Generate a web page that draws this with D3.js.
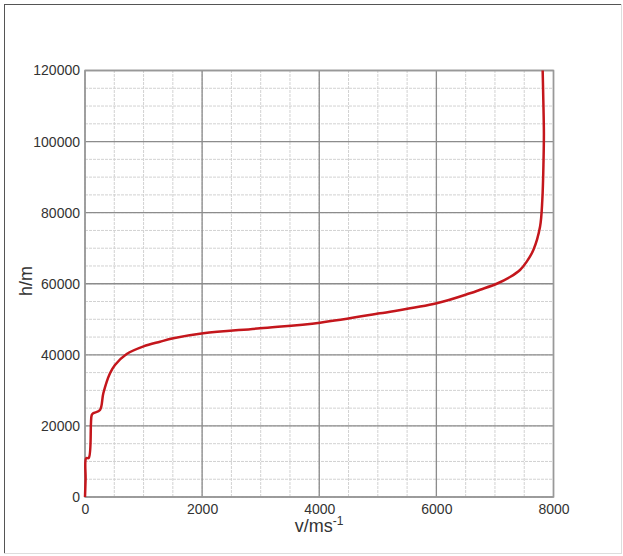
<!DOCTYPE html>
<html lang="en">
<head>
    <meta charset="UTF-8">
    <title>h/m vs v/ms-1</title>
    <script src="https://d3js.org/d3.v7.min.js"></script>
</head>

<style>
    body { margin: 0; background: #fff; }
    text { font-family: Arial, "Liberation Sans", sans-serif; fill: #333; }
    .minor line { stroke: #d2d2d2; stroke-width: 1px; stroke-dasharray: 3,1; }
    .major line { stroke: #8c8c8c; stroke-width: 1.3px; }
</style>

<body>
<svg width="623" height="556"></svg>

<script>
    // velocity (m/s) and altitude (m)
    var velocity = [0, 10, 20, 65, 115, 140, 256, 313, 427, 512, 712, 1000, 1281, 1508, 2020,
        2988, 4013, 5038, 6006, 6574, 6745, 7030, 7257, 7428, 7543, 7656, 7770, 7809, 7830, 7836, 7826, 7815];
    var altitude = [0, 5000, 10900, 11000, 23070, 23550, 24480, 29180, 34800, 37140, 40240, 42400, 43700, 44650, 46060,
        47470, 49050, 51690, 54500, 57320, 58300, 60000, 61890, 63870, 66220, 69500, 76060, 83570, 94820, 102300, 111700, 120000];

    var xMajor = [0, 2000, 4000, 6000, 8000];
    var yMajor = [0, 20000, 40000, 60000, 80000, 100000, 120000];
    var xMinor = d3.range(0, 8001, 500);
    var yMinor = d3.range(0, 120001, 5000);

    var svg = d3.select("svg"),
        width = +svg.attr("width"),
        height = +svg.attr("height");

    // outer frame
    svg.append("line").attr("x1", 4).attr("y1", 4.5).attr("x2", 622).attr("y2", 4.5).attr("stroke", "#555");
    svg.append("line").attr("x1", 4.5).attr("y1", 4).attr("x2", 4.5).attr("y2", 554).attr("stroke", "#555");
    svg.append("line").attr("x1", 621.5).attr("y1", 4).attr("x2", 621.5).attr("y2", 554).attr("stroke", "#ddd");
    svg.append("line").attr("x1", 4).attr("y1", 553.5).attr("x2", 622).attr("y2", 553.5).attr("stroke", "#ddd");

    var margin = {left: 85, right: 69.5, top: 70.5, bottom: 59};
    var x = d3.scaleLinear().domain([0, 8000]).range([margin.left, width - margin.right]);
    var y = d3.scaleLinear().domain([0, 120000]).range([height - margin.bottom, margin.top]);

    var minor = svg.append("g").attr("class", "minor");
    minor.selectAll(".vx").data(xMinor).enter().append("line")
        .attr("x1", function(d) { return x(d); }).attr("x2", function(d) { return x(d); })
        .attr("y1", y(0)).attr("y2", y(120000));
    minor.selectAll(".hy").data(yMinor).enter().append("line")
        .attr("y1", function(d) { return y(d); }).attr("y2", function(d) { return y(d); })
        .attr("x1", x(0)).attr("x2", x(8000));

    var major = svg.append("g").attr("class", "major");
    major.selectAll(".vx").data(xMajor).enter().append("line")
        .attr("x1", function(d) { return x(d); }).attr("x2", function(d) { return x(d); })
        .attr("y1", y(0)).attr("y2", y(120000));
    major.selectAll(".hy").data(yMajor).enter().append("line")
        .attr("y1", function(d) { return y(d); }).attr("y2", function(d) { return y(d); })
        .attr("x1", x(0)).attr("x2", x(8000));

    svg.append("rect")
        .attr("x", x(0)).attr("y", y(120000))
        .attr("width", x(8000) - x(0)).attr("height", y(0) - y(120000))
        .attr("fill", "none").attr("stroke", "#999").attr("stroke-width", 1.5);

    // tick labels
    var xAxis = d3.axisBottom(x).tickValues(xMajor).tickSize(0).tickPadding(7).tickFormat(d3.format("d"));
    var gx = svg.append("g").attr("transform", "translate(0," + y(0) + ")").call(xAxis);
    gx.select(".domain").remove();
    gx.selectAll("text").style("font-size", "14px").attr("fill", "#333");

    var yAxis = d3.axisLeft(y).tickValues(yMajor).tickSize(0).tickPadding(5).tickFormat(d3.format("d"));
    var gy = svg.append("g").attr("transform", "translate(" + x(0) + ",0)").call(yAxis);
    gy.select(".domain").remove();
    gy.selectAll("text").style("font-size", "14px").attr("fill", "#333");

    // axis titles
    svg.append("text")
        .attr("transform", "translate(32,281) rotate(-90)")
        .attr("text-anchor", "middle")
        .style("font-size", "18px")
        .text("h/m");

    var xt = svg.append("text")
        .attr("x", 319).attr("y", 532)
        .attr("text-anchor", "middle")
        .style("font-size", "18px")
        .text("v/ms");
    xt.append("tspan").attr("dy", -7).style("font-size", "12px").text("-1");

    // curve
    var pts = velocity.map(function(v, i) { return [v, altitude[i]]; });
    var line = d3.line()
        .x(function(d) { return x(d[0]); })
        .y(function(d) { return y(d[1]); })
        .curve(d3.curveCatmullRom.alpha(0.5));

    svg.append("path")
        .datum(pts)
        .attr("d", line)
        .attr("fill", "none")
        .attr("stroke", "#c4161c")
        .attr("stroke-width", 2.5)
        .attr("stroke-linejoin", "round");
</script>
</body>
</html>
